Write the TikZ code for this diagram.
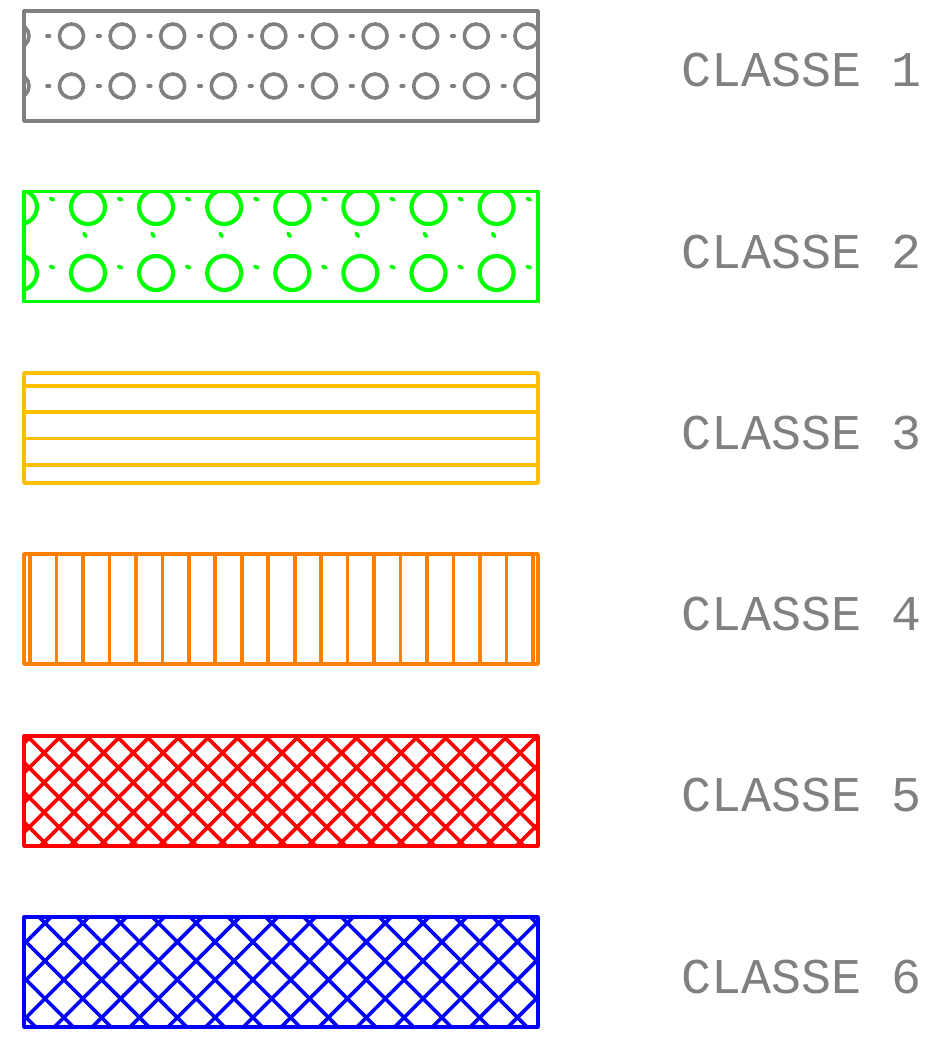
\documentclass[tikz,border=0pt]{standalone}
\usepackage{fontspec}
\newfontfamily\cadfont{Liberation Mono}
\definecolor{cgray}{RGB}{128,128,128}
\definecolor{cgreen}{RGB}{0,255,0}
\definecolor{cyellow}{RGB}{255,191,0}
\definecolor{corange}{RGB}{255,128,0}
\definecolor{cred}{RGB}{255,0,0}
\definecolor{cblue}{RGB}{0,0,255}
\tikzset{
  classbox/.style={draw, line width=3.6pt, minimum width=514pt, minimum height=110pt, inner sep=0pt, outer sep=0pt},
  hatchline/.style={line width=3.6pt},
  classlabel/.style={text=cgray, anchor=base west, inner sep=0pt, font=\cadfont\fontsize{50}{50}\selectfont}
}
\begin{document}
\begin{tikzpicture}[x=1pt,y=-1pt,line cap=round,line join=round]
\useasboundingbox (0,0) rectangle (931,1043);

% ---------- Class 1 ----------
\node[classbox, draw=cgray] (b1) at (281,66) {};
\begin{scope}
  \clip (b1.south west) rectangle (b1.north east);
  \foreach \y in {36,86}{
    \draw[cgray, hatchline] (17,\y) circle[radius=12pt];
    \foreach \k in {0,...,9}{
      \draw[cgray, hatchline] (71.5+\k*50.6,\y) circle[radius=12pt];
      \draw[cgray, line width=3.8pt] (47+\k*50.6,\y) -- (49.5+\k*50.6,\y);
    }
  }
\end{scope}
\node[classbox, draw=cgray] (b1b) at (281,66) {};
\node[classlabel] (t1) at (681,87) {CLASSE 1};

% ---------- Class 2 ----------
\node[classbox, draw=cgreen] (b2) at (281,246.5) {};
\begin{scope}
  \clip (b2.south west) rectangle (b2.north east);
  \foreach \y in {207,273}{
    \draw[cgreen, line width=4.2pt] (20,\y) circle[radius=17pt];
    \foreach \k in {0,...,6}{
      \draw[cgreen, line width=4.2pt] (88+\k*68.1,\y) circle[radius=17pt];
    }
  }
  \foreach \k in {0,...,7}{
    \draw[cgreen, line width=3.8pt] (50.5+\k*68.1,198.5) -- (53.5+\k*68.1,199.7);
    \draw[cgreen, line width=3.8pt] (50.5+\k*68.1,266.5) -- (53.5+\k*68.1,267.7);
  }
  \foreach \k in {0,...,6}{
    \draw[cgreen, line width=3.8pt] (84+\k*68.1,233.5) -- (85.8+\k*68.1,236.3);
  }
\end{scope}
\node[classbox, draw=cgreen] (b2b) at (281,246.5) {};
\node[classlabel] (t2) at (681,268.2) {CLASSE 2};

% ---------- Class 3 ----------
\node[classbox, draw=cyellow] (b3) at (281,428) {};
\foreach \y [count=\i] in {386,412,438.5,465}{
  \coordinate (l3a\i) at (b3.west |- 0,\y);
  \coordinate (l3b\i) at (b3.east |- 0,\y);
  \draw[cyellow, hatchline] (l3a\i) -- (l3b\i);
}
\node[classlabel] (t3) at (681,449.4) {CLASSE 3};

% ---------- Class 4 ----------
\node[classbox, draw=corange] (b4) at (281,609) {};
\foreach \k in {0,...,19}{
  \coordinate (l4a\k) at (30+\k*26.47,554);
  \coordinate (l4b\k) at (30+\k*26.47,664);
  \draw[corange, hatchline] (l4a\k) -- (l4b\k);
}
\node[classlabel] (t4) at (681,630.6) {CLASSE 4};

% ---------- Class 5 ----------
\node[classbox, draw=cred] (b5) at (281,791) {};
\begin{scope}
  \clip (b5.south west) rectangle (b5.north east);
  \foreach \k in {-10,...,12}{
    \pgfmathsetmacro\c{1035+\k*29.75}
    \draw[cred, hatchline] (\c-730,730) -- (\c-852,852);
  }
  \foreach \k in {-13,...,9}{
    \pgfmathsetmacro\c{-441+\k*29.75}
    \draw[cred, hatchline] (\c+730,730) -- (\c+852,852);
  }
\end{scope}
\node[classbox, draw=cred] (b5b) at (281,791) {};
\node[classlabel] (t5) at (681,811.8) {CLASSE 5};

% ---------- Class 6 ----------
\node[classbox, draw=cblue] (b6) at (281,972) {};
\begin{scope}
  \clip (b6.south west) rectangle (b6.north east);
  \foreach \k in {-1,...,16}{
    \pgfmathsetmacro\c{968+\k*37.8}
    \draw[cblue, hatchline] (\c-910,910) -- (\c-1034,1034);
  }
  \foreach \k in {-4,...,14}{
    \pgfmathsetmacro\c{-878+\k*37.8}
    \draw[cblue, hatchline] (\c+910,910) -- (\c+1034,1034);
  }
\end{scope}
\node[classbox, draw=cblue] (b6b) at (281,972) {};
\node[classlabel] (t6) at (681,993) {CLASSE 6};
\end{tikzpicture}
\end{document}
